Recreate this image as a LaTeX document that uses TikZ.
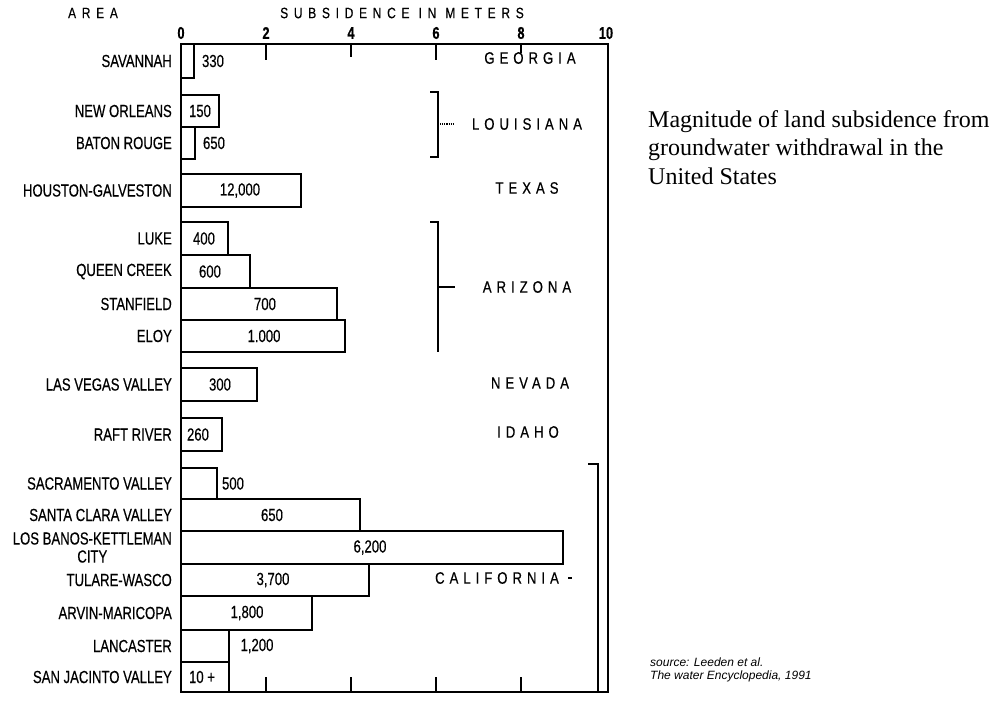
\documentclass[tikz,border=0pt]{standalone}
\usepackage{fontspec}
\setmainfont{Liberation Serif}
\newfontfamily\chartfont[FakeStretch=0.75,FakeBold=0.4]{Liberation Sans}
\newfontfamily\statefont[FakeStretch=0.8,FakeBold=0.5,LetterSpace=30]{Liberation Sans}
\newfontfamily\headfont[FakeStretch=0.8,FakeBold=0.4,LetterSpace=38]{Liberation Sans}
\newfontfamily\srcfont{Liberation Sans}

\tikzset{
  area/.style={font=\chartfont\fontsize{17.5}{18}\selectfont, anchor=east, align=center, inner sep=0pt},
  amount/.style={font=\chartfont\fontsize{17.5}{16}\selectfont, inner sep=0pt},
  state/.style={font=\statefont\fontsize{16.5}{18}\selectfont, inner sep=0pt},
  head/.style={font=\headfont\fontsize{15}{15}\selectfont, inner sep=0pt},
  bar/.style={draw, line width=1.8pt},
  bracket/.style={draw, line width=1.1pt},
}

\begin{document}
\begin{tikzpicture}[x=1pt,y=-1pt]
\useasboundingbox (0,0) rectangle (993,705);
\draw[bar, line width=2.2pt] (181,44) -- (608,44) -- (608,692) -- (181,692) -- cycle;
\foreach \m in {0,2,...,10}
  \node[amount, font=\chartfont\bfseries\fontsize{17}{16}\selectfont] (tick\m) at ({181+42.5*\m},33) {\m};
\foreach \m/\len in {2/16,4/13,6/16,8/9} {
  \draw[bar] ({181+42.5*\m},44) -- ++(0,\len);
  \draw[bar] ({181+42.5*\m},692) -- ++(0,-15);
}
\node[head] (area) at (93,13) {AREA};
\node[head] (subsidence) at (402,13) {SUBSIDENCE IN METERS};

\foreach \n/\t/\b/\r/\lab/\val/\vx in {
  sav/44/78/194/SAVANNAH/330/213,
  nor/95/127/219/NEW ORLEANS/150/200,
  bat/127/159/195/BATON ROUGE/650/214,
  hou/174/207/301/HOUSTON-GALVESTON/{12,000}/240,
  luk/222/255/228/LUKE/400/204,
  que/255/288/250/QUEEN CREEK/600/210,
  sta/288/320/337/STANFIELD/700/265,
  elo/320/352/345/ELOY/1.000/264,
  las/368/401/257/LAS VEGAS VALLEY/300/220,
  raf/418/451/222/RAFT RIVER/260/198,
  sac/468/499/217/SACRAMENTO VALLEY/500/233,
  san/499/531/360/SANTA CLARA VALLEY/650/272,
  los/531/564/563/{LOS BANOS-KETTLEMAN\\CITY}/{6,200}/370,
  tul/564/596/369/TULARE-WASCO/{3,700}/273,
  arv/596/630/312/ARVIN-MARICOPA/{1,800}/247,
  lan/630/662/229/LANCASTER/{1,200}/257,
  jac/662/692/229/SAN JACINTO VALLEY/10 +/202}
{
  \draw[bar] (181,\t) rectangle (\r,\b);
  \node[area] (a-\n) at (172,{(\t+\b)/2}) {\lab};
  \node[amount] (v-\n) at (\vx,{(\t+\b)/2}) {\val};
}

\draw[bracket] (430,92) -- (438,92) -- (438,157) -- (430,157);
\draw[bracket, densely dotted] (438,124) -- (453,124);
\draw[bracket] (430,222) -- (438,222) -- (438,352);
\draw[bracket] (438,287) -- (455,287);
\draw[bracket] (588,464) -- (598,464) -- (598,692);
\draw[bracket] (568,578) -- (572,578);

\node[state] (ga) at (530,58) {GEORGIA};
\node[state] (la) at (527,124) {LOUISIANA};
\node[state] (tx) at (527,188) {TEXAS};
\node[state] (az) at (527,287) {ARIZONA};
\node[state] (nv) at (530,383) {NEVADA};
\node[state] (id) at (528,432) {IDAHO};
\node[state] (ca) at (497,578) {CALIFORNIA};

\node[anchor=north west, align=left, inner sep=0pt, font=\fontsize{24}{28.5}\selectfont] (caption) at (648,110)
  {Magnitude of land subsidence from\\groundwater withdrawal in the\\United States};
\node[anchor=north west, align=left, inner sep=0pt, font=\srcfont\itshape\fontsize{12}{13}\selectfont] (source) at (650,658)
  {source: Leeden et al.\\The water Encyclopedia, 1991};
\end{tikzpicture}
\end{document}
